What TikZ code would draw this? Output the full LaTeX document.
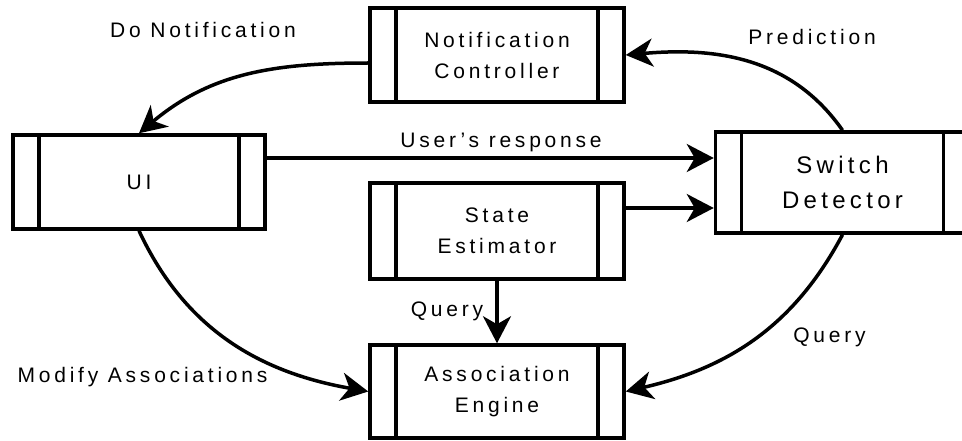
\documentclass[tikz,border=0pt]{standalone}
\usepackage{fontspec}
\setmainfont{Liberation Sans}[LetterSpace=18]
\usetikzlibrary{arrows.meta}

\tikzset{
  procbox/.style={draw, line width=3.5pt, minimum width=254pt, minimum height=94pt,
    inner sep=0pt, align=center, font=\fontsize{21}{31}\selectfont,
    path picture={
      \draw[line width=3.5pt]
        ([xshift=26pt]path picture bounding box.north west) -- ([xshift=26pt]path picture bounding box.south west)
        ([xshift=-26pt]path picture bounding box.north east) -- ([xshift=-26pt]path picture bounding box.south east);
    }},
  flow/.style={line width=3.5pt, -{Stealth[length=27pt, width=28pt, inset=8pt]}},
  lbl/.style={font=\fontsize{21}{25}\selectfont, anchor=base, inner sep=0pt},
}

\begin{document}
\begin{tikzpicture}[x=1pt, y=1pt]
\useasboundingbox (0,0) rectangle (962,440);
\node[procbox] (notif) at (497,385) {Notification\\Controller};
\node[procbox, minimum width=252pt] (ui) at (139,258) {UI};
\node[procbox, minimum height=101pt, font=\fontsize{24}{35}\selectfont] (switch) at (842.5,257.5) {Switch\\Detector};
\node[procbox, minimum height=96pt] (state) at (497,209) {State\\Estimator};
\node[procbox, minimum height=93pt] (assoc) at (497,48.5) {Association\\Engine};

\draw[flow] ([yshift=-8pt]notif.west) to[out=180, in=40] (ui.north);
\draw[flow] (switch.north) to[out=125, in=5] (notif.east);
\draw[flow] ([yshift=24pt]ui.east) -- ([yshift=24pt]ui.east -| switch.west);
\draw[flow] ([yshift=23pt]state.east) -- ([yshift=23pt]state.east -| switch.west);
\draw[flow] (state) -- (assoc);
\draw[flow] (ui.south) to[out=-65, in=170] (assoc.west);
\draw[flow] (switch.south) to[out=-118, in=13] (assoc.east);

\node[lbl] (donotif) at (203,402) {Do Notification};
\node[lbl] (pred) at (812,395) {Prediction};
\node[lbl] (resp) at (501,292) {User's response};
\node[lbl] (qleft) at (447,124) {Query};
\node[lbl] (qright) at (829.5,98) {Query};
\node[lbl] (modify) at (142.5,58) {Modify Associations};
\end{tikzpicture}
\end{document}
